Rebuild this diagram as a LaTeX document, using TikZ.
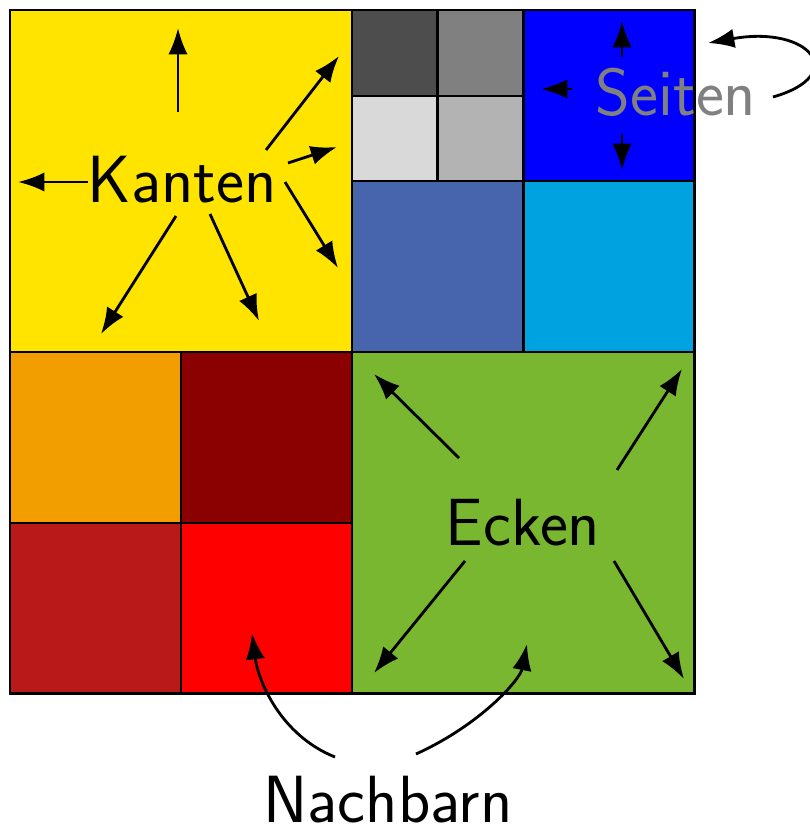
\documentclass[tikz,border=0pt]{standalone}
\usepackage{fontspec}
\usetikzlibrary{arrows.meta}
\definecolor{cYellow}{HTML}{FFE400}
\definecolor{cG1}{HTML}{4D4D4D}
\definecolor{cG2}{HTML}{808080}
\definecolor{cG3}{HTML}{D9D9D9}
\definecolor{cG4}{HTML}{B3B3B3}
\definecolor{cBlue}{HTML}{0000FF}
\definecolor{cSteel}{HTML}{4665AD}
\definecolor{cCyan}{HTML}{00A3E0}
\definecolor{cOrange}{HTML}{F29D00}
\definecolor{cDarkRed}{HTML}{8B0000}
\definecolor{cBrick}{HTML}{B91919}
\definecolor{cRed}{HTML}{FF0000}
\definecolor{cGreen}{HTML}{78B72F}
\tikzset{
  cell/.style={draw=black, line width=1.7pt},
  arr/.style={line width=1.6pt, -{Latex[length=15pt,width=11pt]}},
  lbl/.style={font=\fontsize{38}{45}\selectfont\sffamily, inner sep=0pt, anchor=base}
}
\begin{document}
\begin{tikzpicture}[x=0.02cm,y=-0.02cm]
\useasboundingbox (0,0) rectangle (809,831);
% cells
\draw[cell, fill=cYellow] (10,10) rectangle (352,352);
\draw[cell, fill=cG1] (352,10) rectangle (437.5,96);
\draw[cell, fill=cG2] (437.5,10) rectangle (523,96);
\draw[cell, fill=cG3] (352,96) rectangle (437.5,181);
\draw[cell, fill=cG4] (437.5,96) rectangle (523,181);
\draw[cell, fill=cBlue] (523,10) rectangle (694,181);
\draw[cell, fill=cSteel] (352,181) rectangle (523,352);
\draw[cell, fill=cCyan] (523,181) rectangle (694,352);
\draw[cell, fill=cOrange] (10,352) rectangle (181,523);
\draw[cell, fill=cDarkRed] (181,352) rectangle (352,523);
\draw[cell, fill=cBrick] (10,523) rectangle (181,693);
\draw[cell, fill=cRed] (181,523) rectangle (352,693);
\draw[cell, fill=cGreen] (352,352) rectangle (694,693);
% labels
\node[lbl] (kanten) at (182,203) {Kanten};
\node[lbl] (ecken) at (523,545) {Ecken};
\node[lbl, text=cG2] (seiten) at (676,116) {Seiten};
\node[lbl] (nachbarn) at (388,822) {Nachbarn};
% Kanten arrows
\coordinate (k1s) at (178,112); \coordinate (k1e) at (178,28);
\coordinate (k2s) at (88,182);  \coordinate (k2e) at (18,182);
\coordinate (k3s) at (266,150); \coordinate (k3e) at (339,56);
\coordinate (k4s) at (288,163); \coordinate (k4e) at (337,147);
\coordinate (k5s) at (285,182); \coordinate (k5e) at (338,268);
\coordinate (k6s) at (210,214); \coordinate (k6e) at (259,321);
\coordinate (k7s) at (176,216); \coordinate (k7e) at (101,334);
\foreach \i in {1,...,7} { \draw[arr] (k\i s) -- (k\i e); }
% Seiten arrows
\coordinate (s1s) at (622,57);  \coordinate (s1e) at (622,21);
\coordinate (s2s) at (572,89);  \coordinate (s2e) at (541,89);
\coordinate (s3s) at (622,134); \coordinate (s3e) at (622,170);
\foreach \i in {1,2,3} { \draw[arr] (s\i s) -- (s\i e); }
\coordinate (s4s) at (773,97); \coordinate (s4e) at (708,43);
\draw[arr] (s4s) .. controls (850,75) and (810,25) .. (s4e);
% Ecken arrows
\coordinate (e1s) at (459,458); \coordinate (e1e) at (374,374);
\coordinate (e2s) at (617,470); \coordinate (e2e) at (682,369);
\coordinate (e3s) at (465,561); \coordinate (e3e) at (374,673);
\coordinate (e4s) at (614,561); \coordinate (e4e) at (684,679);
\foreach \i in {1,...,4} { \draw[arr] (e\i s) -- (e\i e); }
% Nachbarn arrows
\coordinate (n1s) at (335,757); \coordinate (n1e) at (252,633);
\coordinate (n2s) at (416,754); \coordinate (n2e) at (527,644);
\draw[arr] (n1s) .. controls (280,735) and (258,680) .. (n1e);
\draw[arr] (n2s) .. controls (480,725) and (520,680) .. (n2e);
\end{tikzpicture}
\end{document}
